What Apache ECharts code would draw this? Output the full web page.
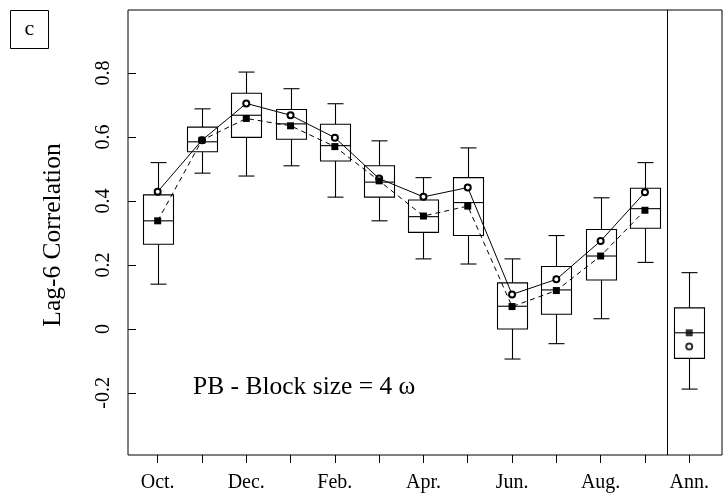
<!DOCTYPE html>
<html>
<head>
<meta charset="utf-8">
<script src="https://cdn.jsdelivr.net/npm/echarts@6/dist/echarts.min.js"></script>
<style>
html,body{margin:0;padding:0;background:#fff;}
#chart{width:723px;height:494px;}
</style>
</head>
<body>
<div id="chart"></div>
<script>
// ---- data ----
var months = ['Oct.','Nov.','Dec.','Jan.','Feb.','Mar.','Apr.','May','Jun.','Jul.','Aug.','Sep.','Ann.'];
var labelPositions = [1, 3, 5, 7, 9, 11, 13];
var labelTexts = ['Oct.','Dec.','Feb.','Apr.','Jun.','Aug.','Ann.'];
var yTickValues = [-0.2, 0, 0.2, 0.4, 0.6, 0.8];

var whiskerLow  = [0.140, 0.487, 0.478, 0.510, 0.412, 0.338, 0.219, 0.203, -0.094, -0.046, 0.032, 0.208, -0.188];
var q1          = [0.265, 0.554, 0.599, 0.593, 0.525, 0.412, 0.302, 0.292, 0.000, 0.046, 0.153, 0.315, -0.092];
var median      = [0.338, 0.585, 0.668, 0.641, 0.573, 0.459, 0.351, 0.395, 0.071, 0.122, 0.228, 0.376, -0.012];
var q3          = [0.419, 0.631, 0.737, 0.686, 0.640, 0.510, 0.403, 0.473, 0.144, 0.195, 0.311, 0.440, 0.066];
var whiskerHigh = [0.520, 0.688, 0.803, 0.751, 0.704, 0.588, 0.473, 0.566, 0.219, 0.292, 0.410, 0.520, 0.176];
var circleVals  = [0.429, 0.590, 0.705, 0.668, 0.598, 0.470, 0.413, 0.442, 0.108, 0.155, 0.275, 0.427, -0.055];
var squareVals  = [0.338, 0.590, 0.658, 0.635, 0.570, 0.463, 0.353, 0.384, 0.070, 0.120, 0.228, 0.371, -0.012];

var FONT = 'Liberation Serif, "Times New Roman", DejaVu Serif, serif';
var X_MIN = 0.33, X_MAX = 13.74, Y_MIN = -0.394, Y_MAX = 0.997;

var boxData = months.map(function (m, i) {
  return [i + 1, whiskerLow[i], q1[i], median[i], q3[i], whiskerHigh[i]];
});
var monthly = months.length - 1;
var circleLine = [], squareLine = [];
for (var i = 0; i < monthly; i++) {
  circleLine.push([i + 1, circleVals[i]]);
  squareLine.push([i + 1, squareVals[i]]);
}
var annIdx = months.length - 1;

function renderBox(params, api) {
  var x = api.value(0);
  var lo = api.coord([x, api.value(1)]);
  var yq1 = api.coord([x, api.value(2)])[1];
  var ymed = api.coord([x, api.value(3)])[1];
  var yq3 = api.coord([x, api.value(4)])[1];
  var yhi = api.coord([x, api.value(5)])[1];
  var ylo = lo[1];
  var cx = Math.round(lo[0]) + 0.5;
  var hb = 15, hc = 8;
  var st = { stroke: '#000', lineWidth: 1.1, fill: null };
  return {
    type: 'group',
    children: [
      { type: 'line', shape: { x1: cx, y1: yq3, x2: cx, y2: yhi }, style: st },
      { type: 'line', shape: { x1: cx, y1: yq1, x2: cx, y2: ylo }, style: st },
      { type: 'line', shape: { x1: cx - hc, y1: yhi, x2: cx + hc, y2: yhi }, style: st },
      { type: 'line', shape: { x1: cx - hc, y1: ylo, x2: cx + hc, y2: ylo }, style: st },
      { type: 'rect', shape: { x: cx - hb, y: yq3, width: 2 * hb, height: yq1 - yq3 },
        style: { stroke: '#000', lineWidth: 1.1, fill: '#fff' } },
      { type: 'line', shape: { x1: cx - hb, y1: ymed, x2: cx + hb, y2: ymed }, style: st }
    ]
  };
}

var chart = echarts.init(document.getElementById('chart'), null, { renderer: 'canvas' });
chart.setOption({
  animation: false,
  backgroundColor: '#fff',
  grid: {
    left: 128, right: 1, top: 10, bottom: 39,
    show: true, borderColor: '#000', borderWidth: 1, backgroundColor: 'transparent'
  },
  xAxis: {
    type: 'value', min: X_MIN, max: X_MAX,
    position: 'bottom',
    axisLine: { show: false, onZero: false },
    splitLine: { show: false },
    axisTick: { show: true, length: 8, customValues: months.map(function (m, i) { return i + 1; }),
      lineStyle: { color: '#000', width: 1 } },
    axisLabel: {
      customValues: labelPositions,
      formatter: function (v) {
        var k = labelPositions.indexOf(Math.round(v));
        return k >= 0 ? labelTexts[k] : '';
      },
      color: '#000', fontFamily: FONT, fontSize: 20, margin: 18
    }
  },
  yAxis: {
    type: 'value', min: Y_MIN, max: Y_MAX,
    position: 'left',
    axisLine: { show: false, onZero: false },
    splitLine: { show: false },
    axisTick: { show: true, inside: true, length: 8, customValues: yTickValues,
      lineStyle: { color: '#000', width: 1 } },
    axisLabel: {
      customValues: yTickValues,
      rotate: 90,
      formatter: function (v) { return v === 0 ? '0' : String(+v.toFixed(1)); },
      color: '#000', fontFamily: FONT, fontSize: 20, margin: 14
    }
  },
  series: [
    {
      type: 'custom',
      renderItem: renderBox,
      data: boxData,
      encode: { x: 0, y: [1, 2, 3, 4, 5] },
      z: 2,
      markLine: {
        silent: true, symbol: ['none', 'none'], label: { show: false },
        lineStyle: { color: '#000', type: 'solid', width: 1 },
        data: [{ xAxis: 12.5 }]
      }
    },
    {
      type: 'line',
      data: circleLine,
      symbol: 'emptyCircle', symbolSize: 6,
      lineStyle: { color: '#000', width: 1 },
      itemStyle: { color: '#000', borderColor: '#000', borderWidth: 0.8 },
      z: 3
    },
    {
      type: 'line',
      data: squareLine,
      symbol: 'rect', symbolSize: 7,
      lineStyle: { color: '#000', width: 1, type: [5, 4] },
      itemStyle: { color: '#000' },
      z: 4
    },
    {
      type: 'scatter',
      data: [[annIdx + 1, circleVals[annIdx]]],
      symbol: 'emptyCircle', symbolSize: 6,
      itemStyle: { color: '#000', borderColor: '#000', borderWidth: 0.8 },
      z: 3
    },
    {
      type: 'scatter',
      data: [[annIdx + 1, squareVals[annIdx]]],
      symbol: 'rect', symbolSize: 7,
      itemStyle: { color: '#000' },
      z: 4
    }
  ],
  graphic: [
    { type: 'rect', shape: { x: 10.5, y: 10.5, width: 38, height: 38 },
      style: { fill: '#fff', stroke: '#000', lineWidth: 1 } },
    { type: 'text', x: 29.5, y: 29, style: { text: 'c', font: '22px ' + FONT, fill: '#000',
      align: 'center', verticalAlign: 'middle' } },
    { type: 'text', x: 53, y: 235, rotation: Math.PI / 2,
      style: { text: 'Lag-6 Correlation', font: '25.5px ' + FONT, fill: '#000',
      align: 'center', verticalAlign: 'middle' } },
    { type: 'text', x: 193, y: 387,
      style: { text: 'PB - Block size = 4 \u03c9', font: '25.5px ' + FONT, fill: '#000',
      align: 'left', verticalAlign: 'middle' } }
  ]
});
</script>
</body>
</html>
